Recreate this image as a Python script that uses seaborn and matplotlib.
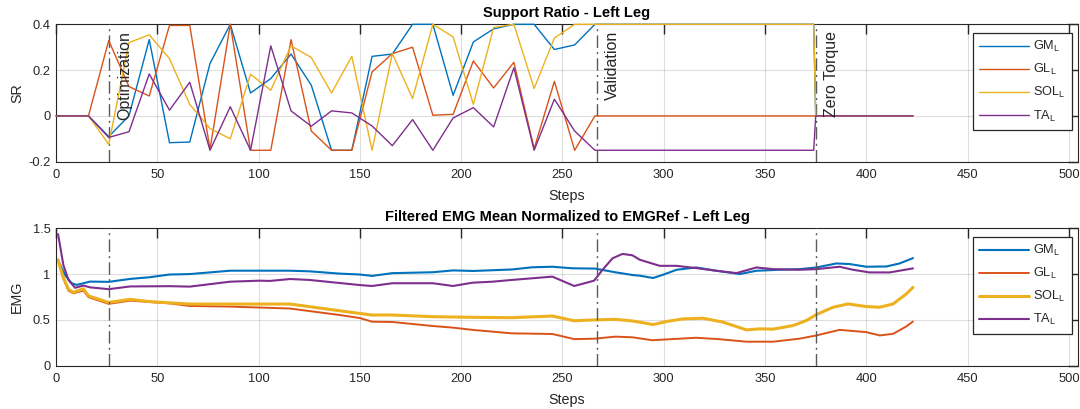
import numpy as np
import pandas as pd
import matplotlib
matplotlib.use("Agg")
import matplotlib.pyplot as plt
import seaborn as sns
from matplotlib.ticker import FuncFormatter, MultipleLocator
from matplotlib.lines import Line2D

# ---------------------------------------------------------------- data
muscles = ["GM", "GL", "SOL", "TA"]
colors = ["#0072BD", "#D95319", "#EDB120", "#7E2F8E"]

# Support ratio, sampled at every optimisation update
sr_steps = [0, 16, 26, 36, 46, 56, 66, 76, 86, 96, 106, 116, 126, 136, 146,
            156, 166, 176, 186, 196, 206, 216, 226, 236, 246, 256, 266,
            374, 375, 423]
sr_gm = [0, 0, -0.09, 0.0, 0.333, -0.117, -0.114, 0.229, 0.40, 0.10, 0.163,
         0.27, 0.134, -0.15, -0.15, 0.26, 0.27, 0.40, 0.40, 0.09, 0.323,
         0.38, 0.40, 0.40, 0.29, 0.31, 0.40, 0.40, 0, 0]
sr_gl = [0, 0, 0.329, 0.128, 0.087, 0.395, 0.395, -0.146, 0.40, -0.15,
         -0.15, 0.333, -0.066, -0.15, -0.15, 0.192, 0.272, 0.30, 0.003,
         0.007, 0.24, 0.122, 0.234, -0.143, 0.151, -0.15, 0.0, 0.0, 0, 0]
sr_sol = [0, 0, -0.124, 0.32, 0.354, 0.25, 0.05, -0.055, -0.10, 0.182,
          0.112, 0.306, 0.255, 0.10, 0.26, -0.15, 0.272, 0.076, 0.40, 0.345,
          0.05, 0.386, 0.40, 0.12, 0.34, 0.40, 0.40, 0.40, 0, 0]
sr_ta = [0, 0, -0.094, -0.069, 0.183, 0.025, 0.147, -0.15, 0.04, -0.15,
         0.306, 0.022, -0.045, 0.022, 0.013, -0.044, -0.13, -0.016, -0.15,
         -0.009, 0.036, -0.048, 0.21, -0.15, 0.073, -0.066, -0.15, -0.15,
         0, 0]

# Filtered EMG mean, normalised to the reference EMG
gm_steps = [1, 4.4, 7.7, 10.2, 16.8, 26, 36.5, 46, 56, 66, 86, 100, 115,
            125, 140, 150, 156, 166, 186, 196, 206, 225, 235, 245, 255, 266,
            276, 284.5, 288.2, 294.7, 299.7, 306.3, 316.1, 326, 337.5, 345.7,
            357.2, 367.1, 375.3, 385.2, 391.8, 400, 409.9, 416.4, 423]
gm_emg = [1.15, 0.99, 0.90, 0.882, 0.918, 0.915, 0.947, 0.965, 0.995, 1.0,
          1.037, 1.037, 1.037, 1.03, 1.005, 0.995, 0.98, 1.01, 1.02, 1.04,
          1.034, 1.05, 1.074, 1.08, 1.063, 1.06, 1.02, 0.99, 0.982, 0.957,
          0.993, 1.047, 1.072, 1.036, 1.0, 1.036, 1.047, 1.054, 1.072,
          1.116, 1.109, 1.08, 1.083, 1.116, 1.174]

gl_steps = [1, 3.6, 6.1, 8.5, 13.5, 16, 26, 36.5, 56, 66, 86, 115.5, 140,
            150, 156, 166, 186, 196, 206, 225, 245, 255.8, 266, 276, 284.5,
            294.3, 304, 316, 327, 340.8, 354, 367, 375.3, 386.8, 400, 406.6,
            413.2, 419.7, 423]
gl_emg = [1.16, 0.95, 0.82, 0.79, 0.82, 0.748, 0.675, 0.71, 0.68, 0.652,
          0.645, 0.624, 0.553, 0.52, 0.48, 0.477, 0.433, 0.415, 0.39, 0.353,
          0.346, 0.29, 0.295, 0.317, 0.31, 0.278, 0.29, 0.305, 0.29, 0.262,
          0.262, 0.295, 0.33, 0.391, 0.366, 0.33, 0.348, 0.428, 0.482]

sol_steps = [1, 3.6, 6.1, 8.5, 13.5, 16, 26, 36.5, 46, 66, 115.5, 139.8,
             150, 156, 166, 186, 206, 225, 245, 255.8, 266, 276, 284.5,
             288.2, 294.7, 301.3, 309.5, 319.4, 329.3, 340.8, 347.4, 354,
             363.8, 370.4, 375.3, 383.6, 391, 400, 406.6, 413.2, 419.7, 423]
sol_emg = [1.15, 0.96, 0.835, 0.80, 0.84, 0.762, 0.69, 0.724, 0.70, 0.673,
           0.673, 0.60, 0.57, 0.553, 0.553, 0.535, 0.528, 0.524, 0.542, 0.49,
           0.50, 0.506, 0.488, 0.475, 0.449, 0.482, 0.511, 0.518, 0.475,
           0.391, 0.402, 0.399, 0.438, 0.493, 0.558, 0.638, 0.674, 0.645,
           0.638, 0.674, 0.783, 0.855]

ta_steps = [1, 3.6, 6.1, 9.4, 13.5, 16.8, 26, 36.5, 56, 66, 86, 100.7,
            105.6, 115.5, 125, 150, 156, 166, 186, 196, 205.6, 215.5, 225,
            235, 245, 255.8, 265.6, 269.7, 274.7, 279.6, 284.5, 288.2, 298,
            306.3, 316.1, 326, 335.9, 345.7, 354, 367.1, 375.3, 386.8, 393.4,
            401.6, 411.5, 423]
ta_emg = [1.436, 1.10, 0.936, 0.85, 0.875, 0.855, 0.835, 0.865, 0.868,
          0.863, 0.917, 0.928, 0.925, 0.946, 0.936, 0.88, 0.87, 0.90, 0.90,
          0.87, 0.906, 0.917, 0.936, 0.954, 0.972, 0.87, 0.928, 1.045,
          1.172, 1.22, 1.205, 1.156, 1.09, 1.09, 1.065, 1.036, 1.011, 1.072,
          1.054, 1.047, 1.054, 1.08, 1.047, 1.018, 1.018, 1.062]

phase_steps = [26, 267, 375]
phase_names = ["Optimization", "Validation", "Zero Torque"]

xticks = list(range(0, 501, 50))

# ---------------------------------------------------------------- style
sns.set_theme(style="white")
plt.rcParams["font.family"] = ["Liberation Sans", "DejaVu Sans"]
plt.rcParams["mathtext.fontset"] = "custom"
plt.rcParams["mathtext.rm"] = "Liberation Sans"
plt.rcParams["mathtext.it"] = "Liberation Sans"

AX_COLOR = "#262626"

sr_df = pd.DataFrame({
    "Steps": sr_steps * 4,
    "SR": sr_gm + sr_gl + sr_sol + sr_ta,
    "Muscle": np.repeat(muscles, len(sr_steps)),
})
emg_df = pd.concat([
    pd.DataFrame({"Steps": s, "EMG": v, "Muscle": m})
    for s, v, m in zip([gm_steps, gl_steps, sol_steps, ta_steps],
                       [gm_emg, gl_emg, sol_emg, ta_emg], muscles)
], ignore_index=True)

fig = plt.figure(figsize=(10.8, 4.09), dpi=100)
ax1 = fig.add_axes([0.0519, 0.6046, 0.9463, 0.336])
ax2 = fig.add_axes([0.0519, 0.1059, 0.9463, 0.336])

palette = dict(zip(muscles, colors))

for m in muscles:
    sns.lineplot(data=sr_df[sr_df.Muscle == m], x="Steps", y="SR",
                 color=palette[m], linewidth=1.0, ax=ax1, sort=False,
                 estimator=None)
# saturated ratios sit on the upper limit: keep them drawn over the frame
for ln in ax1.get_lines():
    ln.set_clip_on(False)
    ln.set_zorder(3)

emg_widths = {"GM": 1.5, "GL": 1.4, "SOL": 2.2, "TA": 1.5}
for m in muscles:
    sns.lineplot(data=emg_df[emg_df.Muscle == m], x="Steps", y="EMG",
                 color=palette[m], linewidth=emg_widths[m], ax=ax2,
                 sort=False, estimator=None)
for ln in ax2.get_lines():
    ln.set_solid_joinstyle("round")

fmt = FuncFormatter(lambda v, p: f"{v:g}")


def style_axes(ax, ylim, ystep, ylabel, title):
    ax.set_xlim(0, 504.5)
    ax.set_ylim(*ylim)
    ax.set_xticks(xticks)
    ax.yaxis.set_major_locator(MultipleLocator(ystep))
    ax.xaxis.set_major_formatter(fmt)
    ax.yaxis.set_major_formatter(fmt)
    ax.grid(True, color=AX_COLOR, alpha=0.15, linewidth=0.8)
    ax.set_axisbelow(True)
    for sp in ax.spines.values():
        sp.set_visible(True)
        sp.set_color(AX_COLOR)
        sp.set_linewidth(0.8)
    ax.tick_params(direction="in", top=True, right=True, length=7,
                   width=1.0, color=AX_COLOR, labelcolor=AX_COLOR,
                   labelsize=9.3)
    ax.tick_params(axis="x", pad=5)
    ax.tick_params(axis="y", pad=4)
    ax.set_xlabel("Steps", fontsize=10.3, color=AX_COLOR)
    ax.set_ylabel(ylabel, fontsize=10.3, color=AX_COLOR)
    ax.xaxis.set_label_coords(0.5, -0.2)
    ax.yaxis.set_label_coords(-0.031, 0.5)
    ax.xaxis.label.set_verticalalignment("top")
    ax.set_title(title, fontsize=10.5, fontweight="bold", color="black",
                 pad=5)
    for xs in phase_steps:
        ax.axvline(xs, color="#5a5a5a", linewidth=1.0,
                   linestyle=(0, (9, 3, 1.5, 3)), zorder=2.6)
    handles = [Line2D([], [], color=c, linewidth=ln.get_linewidth())
               for c, ln in zip(colors, ax.get_lines()[:4])]
    labels = [rf"{m}$_\mathregular{{L}}$" for m in muscles]
    leg = ax.legend(handles, labels, loc="upper right",
                    bbox_to_anchor=(0.994, 0.937), borderaxespad=0,
                    fontsize=9.2, frameon=True, fancybox=False,
                    framealpha=1, edgecolor=AX_COLOR, handlelength=3.9,
                    handletextpad=0.35, labelspacing=0.62, borderpad=0.5)
    leg.get_frame().set_linewidth(0.9)
    leg.set_zorder(5)
    for t in leg.get_texts():
        t.set_color(AX_COLOR)


style_axes(ax1, (-0.2, 0.4), 0.2, "SR", "Support Ratio - Left Leg")
style_axes(ax2, (0, 1.5), 0.5, "EMG",
           "Filtered EMG Mean Normalized to EMGRef - Left Leg")

for xs, name in zip(phase_steps, phase_names):
    ax1.annotate(name, xy=(xs, 1), xycoords=("data", "axes fraction"),
                 xytext=(6, -5), textcoords="offset points",
                 rotation=90, ha="left", va="top", fontsize=11.5,
                 color=AX_COLOR)

fig.savefig("out.png", dpi=100)
